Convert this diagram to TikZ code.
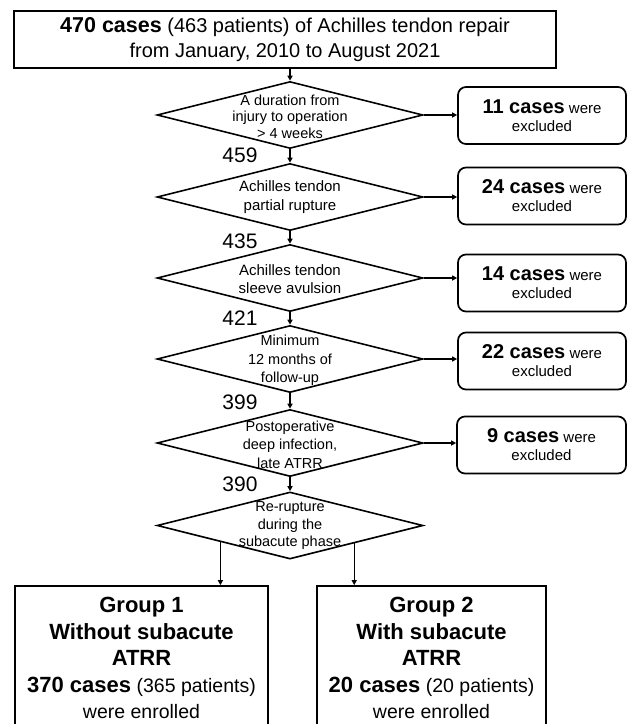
\documentclass[tikz,border=0pt]{standalone}
\usepackage{fontspec}
\setmainfont{Liberation Sans}
\usetikzlibrary{shapes.geometric,arrows.meta,calc}
\newcommand\grpbf{\bfseries\fontsize{22}{26.5}\selectfont}
\newcommand\exbf{\bfseries\fontsize{20}{18}\selectfont}
\tikzset{
  topbox/.style={draw, line width=1.7pt, inner sep=0pt, align=center,
    minimum width=542pt, minimum height=57pt, font=\fontsize{20}{25}\selectfont},
  dia/.style={draw, diamond, line width=1.6pt, minimum width=266pt, minimum height=67pt, inner sep=0pt},
  dtext/.style={align=center, font=\fontsize{14.5}{18}\selectfont, inner sep=0pt},
  exbox/.style={draw, rounded corners=8pt, line width=1.7pt, minimum width=168pt,
    minimum height=57pt, inner sep=0pt, align=center, font=\fontsize{15}{18}\selectfont},
  grpbox/.style={draw, line width=1.7pt, inner sep=0pt},
  grptext/.style={align=center, inner sep=0pt, font=\fontsize{19.5}{26.5}\selectfont},
  num/.style={font=\fontsize{21}{21}\selectfont, inner sep=0pt},
  arr/.style={-{Triangle[length=5pt,width=5pt]}, line width=1.4pt},
}
\begin{document}
\begin{tikzpicture}[x=1pt,y=-1pt]
\useasboundingbox (0,0) rectangle (628,724);
\fill[white] (0,0) rectangle (628,724);

\node[topbox] (top) at (285,39.5) {{\bfseries\fontsize{21.5}{25}\selectfont 470 cases} (463 patients) of Achilles tendon repair\\from January, 2010 to August 2021};

\node[dia] (d1) at (290,115) {};
\node[dtext, font=\fontsize{14.5}{16.5}\selectfont] (d1t) at (290,116.5) {A duration from\\injury to operation\\> 4 weeks};
\node[dia] (d2) at (290,197) {};
\node[dtext, font=\fontsize{15}{19}\selectfont] (d2t) at (290,197.5) {Achilles tendon\\partial rupture};
\node[dia] (d3) at (290,278) {};
\node[dtext, font=\fontsize{15}{18}\selectfont] (d3t) at (290,279) {Achilles tendon\\sleeve avulsion};
\node[dia] (d4) at (290,359) {};
\node[dtext, font=\fontsize{14.5}{18.5}\selectfont] (d4t) at (290,360.5) {Minimum\\12 months of\\follow-up};
\node[dia] (d5) at (290,443) {};
\node[dtext, font=\fontsize{14.5}{18.5}\selectfont] (d5t) at (290,444.5) {Postoperative\\deep infection,\\late ATRR};
\node[dia] (d6) at (290,525.5) {};
\node[dtext, font=\fontsize{14.5}{17.5}\selectfont] (d6t) at (290,526) {Re-rupture\\during the\\subacute phase};

\node[exbox] (e1) at (542,115.5) {{\exbf 11 cases} were\\excluded};
\node[exbox] (e2) at (542,196) {{\exbf 24 cases} were\\excluded};
\node[exbox] (e3) at (542,283) {{\exbf 14 cases} were\\excluded};
\node[exbox] (e4) at (542,361) {{\exbf 22 cases} were\\excluded};
\node[exbox, minimum width=169pt] (e5) at (541.5,445) {{\exbf 9 cases} were\\excluded};

\node[num] (n1) at (240,155) {459};
\node[num] (n2) at (240,241) {435};
\node[num] (n3) at (240,318) {421};
\node[num] (n4) at (240,402) {399};
\node[num] (n5) at (240,484) {390};

\node[grpbox, minimum width=253pt, minimum height=139pt] (g1) at (141.5,655.5) {};
\node[grpbox, minimum width=229pt, minimum height=139pt] (g2) at (431.5,655.5) {};
\node[grptext] (g1t) at (141.5,658) {{\grpbf Group 1}\\{\grpbf Without subacute}\\{\grpbf ATRR}\\{\grpbf 370 cases} (365 patients)\\were enrolled};
\node[grptext] (g2t) at (431.5,658) {{\grpbf Group 2}\\{\grpbf With subacute}\\{\grpbf ATRR}\\{\grpbf 20 cases} (20 patients)\\were enrolled};

\draw[arr] (top.south -| d1.north) -- (d1.north);
\draw[arr] (d1.south) -- (d2.north);
\draw[arr] (d2.south) -- (d3.north);
\draw[arr] (d3.south) -- (d4.north);
\draw[arr] (d4.south) -- (d5.north);
\draw[arr] (d5.south) -- (d6.north);

\draw[arr] (d1.east) -- (d1.east -| e1.west);
\draw[arr] (d2.east) -- (d2.east -| e2.west);
\draw[arr] (d3.east) -- (d3.east -| e3.west);
\draw[arr] (d4.east) -- (d4.east -| e4.west);
\draw[arr] (d5.east) -- (d5.east -| e5.west);

\coordinate (a1) at ($(d6.west)!0.48!(d6.south)$);
\coordinate (a2) at ($(d6.south)!0.48!(d6.east)$);
\draw[arr] (a1) -- (a1 |- g1.north);
\draw[arr] (a2) -- (a2 |- g2.north);
\end{tikzpicture}
\end{document}
